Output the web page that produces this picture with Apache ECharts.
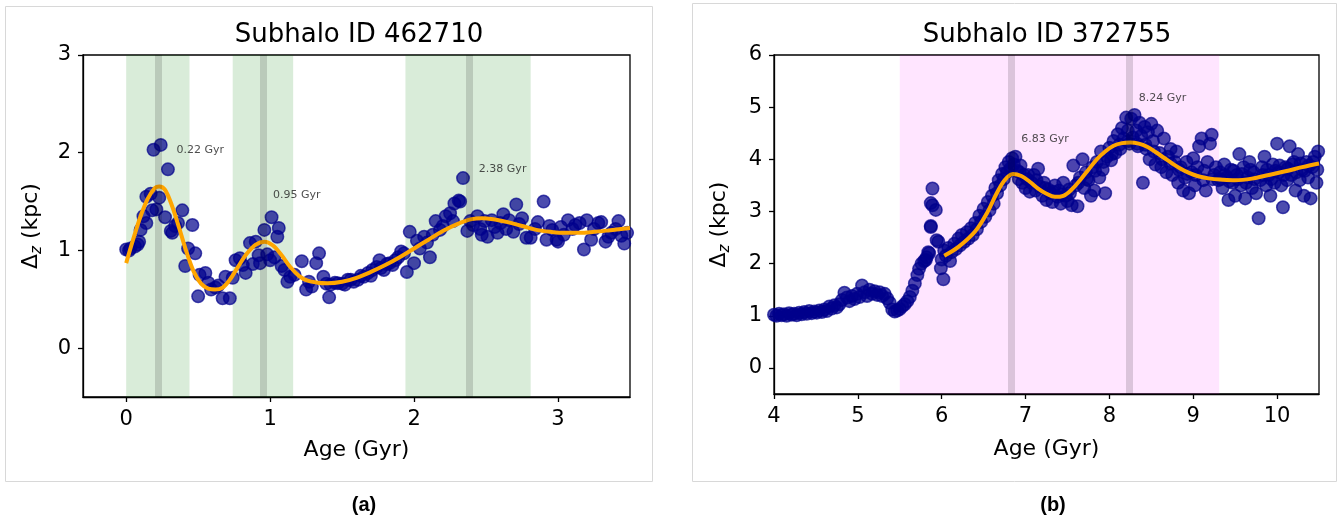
<!DOCTYPE html>
<html>
<head>
<meta charset="utf-8">
<script src="https://cdn.jsdelivr.net/npm/echarts@6/dist/echarts.min.js"></script>
<style>
html, body { margin: 0; padding: 0; background: #fff; }
#chart { width: 1343px; height: 517px; }
</style>
</head>
<body>
<div id="chart"></div>
<script>
// ---- Panel (a): Subhalo ID 462710 ----
const titleA = 'Subhalo ID 462710';
const ageA = [0.00,0.02,0.03,0.06,0.08,0.09,0.10,0.12,0.14,0.14,0.17,0.18,0.19,0.21,0.23,0.24,0.27,0.29,0.31,0.32,0.34,0.36,0.39,0.41,0.43,0.46,0.48,0.50,0.51,0.55,0.57,0.59,0.62,0.64,0.67,0.69,0.72,0.74,0.76,0.79,0.81,0.83,0.86,0.88,0.90,0.92,0.93,0.96,0.98,1.00,1.01,1.03,1.05,1.06,1.08,1.10,1.12,1.14,1.17,1.22,1.25,1.27,1.29,1.32,1.34,1.37,1.39,1.41,1.42,1.45,1.47,1.50,1.52,1.54,1.56,1.58,1.61,1.63,1.65,1.68,1.70,1.71,1.74,1.76,1.77,1.79,1.81,1.83,1.85,1.87,1.89,1.91,1.93,1.95,1.97,2.00,2.02,2.04,2.07,2.09,2.11,2.13,2.15,2.18,2.20,2.22,2.25,2.27,2.28,2.31,2.32,2.34,2.37,2.39,2.41,2.44,2.46,2.47,2.49,2.51,2.54,2.56,2.58,2.60,2.62,2.64,2.66,2.69,2.71,2.73,2.75,2.78,2.81,2.84,2.86,2.90,2.92,2.94,2.96,2.99,3.00,3.02,3.04,3.07,3.10,3.12,3.15,3.18,3.20,3.23,3.25,3.28,3.30,3.33,3.35,3.37,3.40,3.42,3.44,3.46,3.48];
const dzA = [1.01,1.00,1.02,1.04,1.06,1.09,1.21,1.35,1.28,1.55,1.58,1.41,2.03,1.42,1.54,2.08,1.34,1.83,1.20,1.18,1.25,1.28,1.41,0.84,1.02,1.26,0.97,0.53,0.75,0.77,0.67,0.60,0.62,0.64,0.51,0.73,0.51,0.72,0.90,0.92,0.85,0.77,1.075,0.86,1.09,0.95,0.87,1.21,0.96,0.90,1.34,0.93,1.14,1.23,0.84,0.80,0.68,0.73,0.75,0.89,0.60,0.68,0.63,0.87,0.97,0.73,0.66,0.52,0.65,0.67,0.665,0.66,0.65,0.70,0.70,0.68,0.70,0.74,0.73,0.77,0.74,0.80,0.83,0.90,0.82,0.80,0.86,0.87,0.85,0.90,0.93,0.99,0.97,0.78,1.19,0.87,1.10,1.02,1.14,1.08,0.93,1.16,1.30,1.21,1.25,1.35,1.38,1.30,1.48,1.51,1.50,1.74,1.20,1.30,1.26,1.35,1.22,1.16,1.30,1.14,1.31,1.24,1.18,1.28,1.37,1.22,1.31,1.19,1.47,1.27,1.33,1.13,1.13,1.22,1.29,1.50,1.11,1.25,1.21,1.11,1.09,1.24,1.16,1.31,1.22,1.26,1.28,1.01,1.31,1.11,1.22,1.28,1.29,1.09,1.14,1.18,1.22,1.30,1.15,1.07,1.18];
const fitAgeA = [0.00,0.05,0.10,0.15,0.20,0.23,0.27,0.32,0.37,0.42,0.47,0.52,0.57,0.62,0.67,0.72,0.78,0.84,0.90,0.96,1.02,1.08,1.14,1.20,1.26,1.33,1.40,1.50,1.60,1.70,1.80,1.90,2.00,2.10,2.20,2.30,2.40,2.47,2.55,2.65,2.75,2.85,2.95,3.05,3.15,3.25,3.35,3.50];
const fitA = [0.87,1.12,1.35,1.53,1.64,1.655,1.62,1.45,1.22,0.98,0.78,0.66,0.61,0.60,0.62,0.70,0.84,0.97,1.06,1.09,1.05,0.95,0.83,0.74,0.69,0.67,0.665,0.68,0.72,0.78,0.85,0.93,1.02,1.11,1.20,1.27,1.32,1.33,1.32,1.29,1.25,1.21,1.19,1.18,1.18,1.19,1.205,1.23];
const bandsA = [[0.00, 0.44], [0.74, 1.16], [1.94, 2.81]];
const peaksA = [0.22, 0.95, 2.38];
const peakLabelAgeA = [0.35, 1.02, 2.45];
const peakLabelDzA = [2.03, 1.57, 1.83];
const xTicksA = [0, 1, 2, 3];
const yTicksA = [0, 1, 2, 3];

// ---- Panel (b): Subhalo ID 372755 ----
const titleB = 'Subhalo ID 372755';
const ageB = [4.00,4.03,4.06,4.09,4.12,4.15,4.18,4.21,4.24,4.27,4.30,4.33,4.36,4.39,4.42,4.45,4.48,4.51,4.54,4.57,4.60,4.63,4.66,4.69,4.72,4.75,4.78,4.81,4.84,4.87,4.90,4.93,4.96,4.99,5.02,5.05,5.08,5.11,5.14,5.17,5.20,5.23,5.26,5.29,5.32,5.35,5.38,5.41,5.44,5.47,5.50,5.53,5.56,5.59,5.62,5.65,5.68,5.71,5.73,5.76,5.79,5.82,5.84,
  5.87,5.89,5.89,5.87,5.93,5.87,5.94,5.96,5.85,5.81,5.99,6.02,
  6.00,6.03,6.05,6.08,6.10,6.12,6.15,6.17,6.20,6.22,6.24,6.27,6.30,6.32,6.35,6.37,6.40,6.42,6.45,6.47,6.50,6.52,6.55,6.57,6.60,6.62,6.64,6.66,6.68,6.70,6.72,6.74,6.76,6.78,6.80,6.82,6.84,6.86,6.88,6.90,6.92,6.94,6.96,6.98,7.00,7.02,7.05,7.07,7.10,7.12,7.15,7.17,7.20,7.22,7.25,7.27,7.30,7.32,7.35,7.38,7.40,7.42,7.45,7.48,7.50,7.52,7.55,7.57,7.60,7.62,7.65,7.68,7.70,7.72,7.75,7.78,7.80,7.82,7.85,7.88,7.90,7.92,7.95,7.97,8.00,8.02,8.05,8.07,8.10,8.12,8.15,8.17,8.20,8.22,8.24,8.26,8.28,8.30,8.32,8.34,8.36,8.38,8.40,8.42,8.44,8.46,8.48,8.50,8.52,8.55,8.57,8.60,8.62,8.65,8.68,8.70,8.73,8.75,8.78,8.80,8.82,8.85,8.88,8.90,8.92,8.95,8.98,9.00,9.02,9.05,9.07,9.10,9.12,9.15,9.17,9.20,9.22,9.25,9.27,9.30,
  6.93,7.03,7.13,7.23,7.33,7.43,7.53,7.63,7.73,7.83,7.93,8.03,8.13,8.23,8.33,8.43,8.53,8.63,8.73,8.83,8.93,9.03,9.13,9.23,
  9.32,9.35,9.37,9.40,9.42,9.45,9.47,9.50,9.52,9.55,9.57,9.60,9.62,9.65,9.67,9.70,9.72,9.75,9.78,9.80,9.82,9.85,9.87,9.90,9.92,9.95,9.97,10.00,10.02,10.05,10.07,10.10,10.12,10.15,10.17,10.20,10.22,10.25,10.27,10.30,10.32,10.35,10.37,10.40,10.42,10.45,10.47,10.49,
  9.33,9.38,9.43,9.48,9.53,9.58,9.63,9.68,9.73,9.83,9.88,9.93,9.98,10.03,10.08,10.13,10.18,10.23,10.28,10.33,10.38,10.43,10.48];
const dzB = [1.02,1.00,1.04,1.01,1.03,1.00,1.05,1.02,1.04,1.01,1.06,1.03,1.07,1.04,1.09,1.05,1.08,1.06,1.10,1.07,1.12,1.09,1.18,1.14,1.20,1.16,1.22,1.30,1.44,1.35,1.28,1.38,1.32,1.42,1.36,1.58,1.45,1.38,1.50,1.42,1.47,1.40,1.45,1.38,1.42,1.33,1.25,1.12,1.08,1.10,1.13,1.18,1.22,1.28,1.36,1.48,1.62,1.78,1.90,2.00,2.05,2.12,2.22,
  2.70,3.44,3.12,3.16,3.03,2.72,2.45,2.42,2.20,2.07,1.91,1.70,
  2.08,2.25,2.15,2.30,2.05,2.22,2.38,2.28,2.48,2.35,2.55,2.42,2.60,2.48,2.68,2.55,2.78,2.66,2.92,2.80,3.05,2.90,3.18,3.02,3.30,3.15,3.45,3.35,3.60,3.50,3.72,3.62,3.85,3.75,3.95,3.82,4.02,3.90,4.05,3.78,3.62,3.88,3.55,3.70,3.45,3.62,3.38,3.55,3.70,3.40,3.82,3.48,3.30,3.55,3.22,3.42,3.35,3.18,3.50,3.28,3.40,3.15,3.55,3.30,3.20,3.42,3.12,3.88,3.50,3.10,3.65,4.00,3.45,3.75,3.60,3.30,3.85,3.40,3.95,3.65,4.15,3.80,3.35,4.05,4.22,3.98,4.35,4.12,4.48,4.28,4.60,4.40,4.80,4.55,4.30,4.78,4.42,4.85,4.55,4.25,4.70,4.45,3.55,4.62,4.20,4.52,4.00,4.68,4.35,3.90,4.55,4.12,3.85,4.40,3.75,4.05,4.20,3.70,3.95,4.15,3.55,3.85,3.40,3.65,3.95,3.35,3.75,4.02,3.50,3.85,4.25,4.40,3.60,3.40,3.95,4.30,4.47,3.70,3.85,3.60,
  3.75,3.70,3.60,3.45,3.38,3.32,3.35,3.55,3.62,3.78,3.95,4.10,4.20,4.35,4.30,4.28,4.15,4.00,3.92,3.80,3.72,3.70,3.78,3.62,
  3.75,3.45,3.90,3.65,3.22,3.80,3.55,3.30,3.70,4.10,3.50,3.85,3.25,3.65,3.95,3.45,3.75,3.35,2.87,3.60,3.85,4.05,3.50,3.70,3.30,3.90,3.55,4.30,3.75,3.50,3.08,3.85,3.60,4.25,3.70,3.95,3.40,4.10,3.60,3.80,3.30,3.95,3.65,3.25,3.85,4.05,3.55,4.15,
  3.62,3.70,3.58,3.78,3.62,3.72,3.55,3.80,3.62,3.70,3.80,3.62,3.78,3.88,3.70,3.82,3.90,3.75,3.92,3.78,3.88,3.95,3.80];
const fitAgeB = [6.03,6.20,6.40,6.55,6.65,6.75,6.85,6.95,7.05,7.15,7.25,7.35,7.45,7.55,7.65,7.75,7.85,7.95,8.05,8.15,8.25,8.35,8.45,8.55,8.65,8.75,8.85,8.95,9.05,9.20,9.35,9.50,9.70,9.90,10.10,10.30,10.50];
const fitB = [2.15,2.32,2.62,3.00,3.33,3.60,3.72,3.68,3.57,3.44,3.34,3.28,3.30,3.42,3.60,3.80,4.00,4.15,4.26,4.31,4.32,4.30,4.24,4.14,4.03,3.92,3.82,3.74,3.68,3.63,3.61,3.60,3.63,3.70,3.77,3.85,3.92];
const bandsB = [[5.50, 9.31]];
const peaksB = [6.83, 8.24];
const peakLabelAgeB = [6.95, 8.35];
const peakLabelDzB = [4.38, 5.18];
const xTicksB = [4, 5, 6, 7, 8, 9, 10];
const yTicksB = [0, 1, 2, 3, 4, 5, 6];

const FONT = 'DejaVu Sans';
const pts = (xs, ys) => xs.map((x, i) => [x, ys[i]]);

function xAxisCfg(gridIndex, min, max, ticks, nameGap) {
  return {
    type: 'value', gridIndex, min, max,
    name: 'Age (Gyr)', nameLocation: 'middle', nameGap,
    nameTextStyle: { fontFamily: FONT, fontSize: 22, color: '#000' },
    axisLine: { show: true, onZero: false, lineStyle: { color: '#000', width: 1.3 } },
    axisTick: { show: true, length: 5, customValues: ticks, lineStyle: { color: '#000', width: 1.3 } },
    axisLabel: { customValues: ticks, margin: 12, fontFamily: FONT, fontSize: 21, color: '#000' },
    splitLine: { show: false }
  };
}
function yAxisCfg(gridIndex, min, max, ticks, nameGap) {
  return {
    type: 'value', gridIndex, min, max,
    name: '{d|Δ}{s|z}{d| (kpc)}', nameLocation: 'middle', nameGap, nameRotate: 90,
    nameTextStyle: {
      fontFamily: FONT, fontSize: 22, color: '#000',
      rich: {
        d: { fontFamily: FONT, fontSize: 22, color: '#000' },
        s: { fontFamily: FONT, fontSize: 15, fontStyle: 'italic', color: '#000', padding: [12, 0, 0, 0] }
      }
    },
    axisLine: { show: true, onZero: false, lineStyle: { color: '#000', width: 1.3 } },
    axisTick: { show: true, length: 5, customValues: ticks, lineStyle: { color: '#000', width: 1.3 } },
    axisLabel: { customValues: ticks, margin: 12, fontFamily: FONT, fontSize: 21, color: '#000' },
    splitLine: { show: false }
  };
}

function panelSeries(idx, ages, dz, fitAges, fit, bands, peaks, lblAges, lblDz, bandColor, peakColor) {
  return [
    {
      // shaded intervals and peak markers, kept beneath the points
      type: 'line', xAxisIndex: idx, yAxisIndex: idx, z: 1, silent: true,
      data: [[bands[0][0], dz[0]]], showSymbol: false, lineStyle: { opacity: 0 },
      markArea: {
        silent: true,
        itemStyle: { color: bandColor },
        data: bands.map(b => [{ xAxis: b[0] }, { xAxis: b[1] }])
      },
      markLine: {
        silent: true, symbol: ['none', 'none'], label: { show: false },
        lineStyle: { color: peakColor, width: 7, type: 'solid' },
        data: peaks.map(p => ({ xAxis: p }))
      }
    },
    {
      type: 'scatter', xAxisIndex: idx, yAxisIndex: idx, z: 2, silent: true,
      symbolSize: 12.5,
      itemStyle: { color: '#00008b', opacity: 0.7, borderColor: '#00008b', borderWidth: 1.5 },
      data: pts(ages, dz)
    },
    {
      type: 'line', xAxisIndex: idx, yAxisIndex: idx, z: 3, silent: true,
      smooth: 0.35, showSymbol: false,
      lineStyle: { color: '#ffa500', width: 4 },
      data: pts(fitAges, fit)
    },
    {
      type: 'scatter', xAxisIndex: idx, yAxisIndex: idx, z: 4, silent: true,
      symbolSize: 0,
      label: {
        show: true, position: 'inside', align: 'left', verticalAlign: 'middle',
        fontFamily: FONT, fontSize: 11, color: '#222',
        formatter: p => peaks[p.dataIndex].toFixed(2) + ' Gyr'
      },
      data: pts(lblAges, lblDz)
    }
  ];
}

const chart = echarts.init(document.getElementById('chart'), null, { renderer: 'canvas' });
chart.setOption({
  backgroundColor: '#fff',
  animation: false,
  grid: [
    { left: 83, right: 713, top: 55, bottom: 120, show: true, borderColor: '#000', borderWidth: 1.3, backgroundColor: 'transparent' },
    { left: 774, right: 24, top: 55, bottom: 123, show: true, borderColor: '#000', borderWidth: 1.3, backgroundColor: 'transparent' }
  ],
  xAxis: [xAxisCfg(0, -0.3, 3.5, xTicksA, 42), xAxisCfg(1, 4, 10.5, xTicksB, 44)],
  yAxis: [yAxisCfg(0, -0.5, 3, yTicksA, 38), yAxisCfg(1, -0.5, 6, yTicksB, 41)],
  graphic: [
    { type: 'rect', shape: { x: 5.5, y: 6.5, width: 647, height: 475 }, style: { fill: 'none', stroke: '#d8d8d8', lineWidth: 1 }, z: -1 },
    { type: 'rect', shape: { x: 692.5, y: 3.5, width: 644, height: 478 }, style: { fill: 'none', stroke: '#d8d8d8', lineWidth: 1 }, z: -1 },
    { type: 'text', x: 359, y: 35, style: { text: titleA, font: '26px "DejaVu Sans"', fill: '#000', align: 'center', verticalAlign: 'middle' } },
    { type: 'text', x: 1047, y: 35, style: { text: titleB, font: '26px "DejaVu Sans"', fill: '#000', align: 'center', verticalAlign: 'middle' } },
    { type: 'text', x: 364, y: 505, style: { text: '(a)', font: 'bold 20px "Liberation Sans"', fill: '#000', align: 'center', verticalAlign: 'middle' } },
    { type: 'text', x: 1053, y: 505, style: { text: '(b)', font: 'bold 20px "Liberation Sans"', fill: '#000', align: 'center', verticalAlign: 'middle' } }
  ],
  series: [
    ...panelSeries(0, ageA, dzA, fitAgeA, fitA, bandsA, peaksA, peakLabelAgeA, peakLabelDzA, 'rgba(0,128,0,0.15)', 'rgba(0,0,0,0.14)'),
    ...panelSeries(1, ageB, dzB, fitAgeB, fitB, bandsB, peaksB, peakLabelAgeB, peakLabelDzB, 'rgba(255,0,255,0.1)', 'rgba(0,0,0,0.14)')
  ]
});
</script>
</body>
</html>
